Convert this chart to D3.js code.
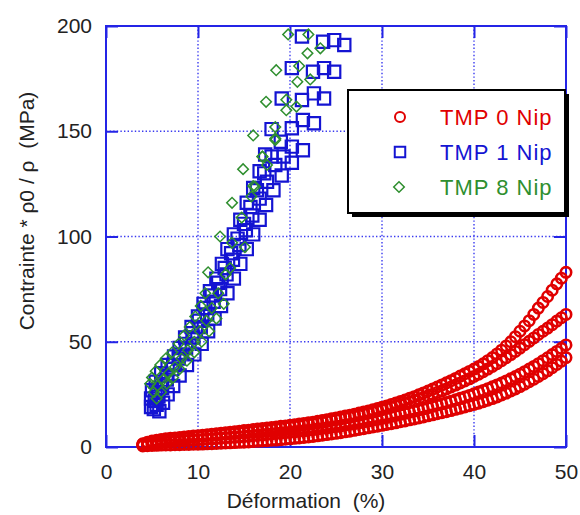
<!DOCTYPE html>
<html><head><meta charset="utf-8">
<script src="https://cdn.jsdelivr.net/npm/d3@7"></script>
<style>
html,body{margin:0;padding:0;background:#fff;}
svg{display:block;font-family:"Liberation Sans",Arial,sans-serif;}
</style></head>
<body>
<svg id="c" width="580" height="515"></svg>
<script>
// ---------- DATA ----------
const xTicks = [0,10,20,30,40,50];
const yTicks = [0,50,100,150,200];
const xTitle = "Déformation  (%)";
const yTitle = "Contrainte * ρ0 / ρ  (MPa)";
const legendLabels = ["TMP 0 Nip","TMP 1 Nip","TMP 8 Nip"];

// TMP 0 Nip : four specimens, shared strain samples
const strain0 = [4,4.5,5,5.5,6,6.5,7,7.5,8,8.5,9,9.5,10,10.5,11,11.5,12,12.5,13,13.5,14,14.5,15,15.5,16,16.5,17,17.5,18,18.5,19,19.5,20,20.5,21,21.5,22,22.5,23,23.5,24,24.5,25,25.5,26,26.5,27,27.5,28,28.5,29,29.5,30,30.5,31,31.5,32,32.5,33,33.5,34,34.5,35,35.5,36,36.5,37,37.5,38,38.5,39,39.5,40,40.5,41,41.5,42,42.5,43,43.5,44,44.5,45,45.5,46,46.5,47,47.5,48,48.5,49,49.5,50];
const tmp0a = [1.5,2.2,2.8,3.2,3.6,3.9,4.1,4.3,4.5,4.8,5.0,5.2,5.4,5.6,5.8,6.0,6.3,6.5,6.8,7.0,7.3,7.5,7.8,8.0,8.3,8.5,8.8,9.0,9.3,9.5,9.8,10.0,10.3,10.6,10.9,11.2,11.5,11.8,12.2,12.6,13.0,13.4,13.8,14.2,14.7,15.1,15.6,16.1,16.6,17.1,17.7,18.3,18.9,19.5,20.2,20.9,21.6,22.3,23.1,23.9,24.8,25.7,26.6,27.5,28.5,29.5,30.5,31.5,32.6,33.7,34.8,35.9,37.0,38.2,39.5,41.0,42.5,44.2,46.0,48.0,50.0,52.4,55.0,57.5,60.0,63.0,66.0,68.7,71.5,74.5,77.5,80.2,83.0];
const tmp0b = [1.3,1.8,2.2,2.6,2.9,3.2,3.5,3.8,4.0,4.3,4.5,4.8,5.0,5.2,5.4,5.6,5.8,6.0,6.2,6.4,6.6,6.8,7.0,7.2,7.5,7.7,8.0,8.2,8.5,8.7,9.0,9.3,9.6,9.9,10.2,10.5,10.8,11.1,11.5,11.8,12.2,12.6,13.0,13.4,13.8,14.2,14.7,15.1,15.6,16.1,16.6,17.1,17.7,18.3,18.9,19.5,20.1,20.7,21.4,22.1,22.8,23.5,24.3,25.1,25.9,26.7,27.6,28.5,29.4,30.4,31.4,32.4,33.5,34.6,35.8,37.0,38.3,39.6,41.0,42.4,43.9,45.4,47.0,48.6,50.2,51.8,53.5,55.0,56.5,58.1,59.8,61.4,63.0];
const tmp0c = [1.0,1.3,1.6,1.9,2.1,2.3,2.5,2.7,2.9,3.0,3.2,3.3,3.5,3.6,3.8,3.9,4.1,4.2,4.4,4.5,4.7,4.8,5.0,5.2,5.4,5.6,5.8,6.0,6.2,6.4,6.6,6.8,7.0,7.2,7.5,7.7,8.0,8.2,8.5,8.8,9.1,9.4,9.7,10.0,10.4,10.7,11.1,11.5,11.9,12.3,12.7,13.1,13.6,14.0,14.5,15.0,15.5,16.0,16.5,17.0,17.6,18.1,18.7,19.3,19.9,20.5,21.1,21.7,22.4,23.1,23.8,24.5,25.3,26.1,26.9,27.7,28.6,29.5,30.4,31.4,32.4,33.5,34.6,35.8,37.0,38.3,39.6,41.0,42.4,43.9,45.4,46.9,48.5];
const tmp0d = [0.5,0.6,0.7,0.8,0.9,1.0,1.0,1.1,1.1,1.2,1.2,1.3,1.3,1.4,1.5,1.6,1.7,1.8,1.9,2.0,2.1,2.2,2.3,2.4,2.6,2.7,2.9,3.0,3.2,3.3,3.5,3.7,3.9,4.1,4.3,4.5,4.8,5.0,5.3,5.6,5.9,6.2,6.5,6.8,7.2,7.5,7.9,8.3,8.7,9.1,9.5,9.9,10.3,10.7,11.1,11.5,12.0,12.4,12.9,13.3,13.8,14.3,14.8,15.3,15.8,16.3,16.8,17.3,17.9,18.4,19.0,19.6,20.2,20.8,21.5,22.2,23.0,23.8,24.7,25.6,26.6,27.6,28.7,29.8,31.0,32.2,33.5,34.8,36.2,37.7,39.2,40.8,42.5];

// TMP 1 Nip : four specimens
const tmp1aX = [5.8,6.2,6.7,7.3,8.0,8.8,9.6,10.4,11.1,11.8,12.5,13.2,13.9,14.6,15.3,16.0,16.7,17.4,18.2,19.1,20.2,21.4,22.6,23.7,24.8,25.9];
const tmp1aY = [17,21,25,29,34,39,44,49,55,61,67,73,80,87,94,101,108,115,122,129,135,141,153.8,165.6,178.3,191];
const tmp1bX = [5.5,5.7,6.1,6.6,7.2,7.9,8.7,9.5,10.3,11.0,11.7,12.4,13.1,13.8,14.5,15.2,15.9,16.7,17.5,18.4,19.3,20.2,21.4,22.6,23.7,24.8];
const tmp1bY = [20,24,28,32,37,42,47,52,57,63,69,75,82,89,96,103,110,118,126,134,138,142.7,155.3,168,180,193.3];
const tmp1cX = [5.2,5.3,5.6,6.0,6.6,7.3,8.0,8.7,9.4,10.1,10.8,11.5,12.2,12.9,13.6,14.3,15.0,15.7,16.4,17.2,18.0,19.0,20.2,21.3,22.5,23.6];
const tmp1cY = [18,22,26,30,34,39,44,49,54,60,66,72,78,85,92,99,106,114,122,130,138,145,151.4,164.8,178.3,192.5];
const tmp1dX = [4.9,4.9,5.0,5.4,6.0,6.7,7.4,8.0,8.6,9.3,10.0,10.6,11.3,12.0,12.6,13.2,13.9,14.6,15.3,16.0,16.7,17.3,18.0,19.1,20.2,21.3];
const tmp1dY = [19,23,27,31,35,39,43,47,52,57,62,68,74,80,87,94,101,108,116,123,131,139,151,165.6,180,195];

// TMP 8 Nip : specimens
const tmp8aX = [4.8,5.0,5.4,5.9,6.5,7.2,7.9,8.5,9.1,9.7,10.3,10.8,11.1,12.4,13.7,14.9,16.0,17.4,18.5,19.8];
const tmp8aY = [30,33,36,39,42,45,49,53,57,62,67,73,83,100,116,132,148,164,179,196];
const tmp8bX = [5.2,5.6,6.2,6.8,7.5,8.2,8.9,9.6,10.2,10.9,11.5,12.2,13.0,13.7,14.75,16.0,17.0,18.4,19.6,21.0,22.0];
const tmp8bY = [26,29,32,35,38,42,46,50,55,60,66,73,82,97,109,124,138,152,165,181,196];
const tmp8cX = [5.5,6.0,6.6,7.3,8.0,8.8,9.6,10.4,11.2,12.0,12.8,13.5,15.1,15.8,17.5,18.4,19.6,20.8,21.9];
const tmp8cY = [23,26,30,33,37,41,45,50,55,61,68,85,95,119,134,146.6,160,173.5,187];
const tmp8dX = [16.2,17.0,18.4,20.7,22.2,23.3];
const tmp8dY = [123.7,137.9,145.8,161.7,174.6,189.4];

// ---------- DRAW ----------
const RED = "#e00000", BLUE = "#1414d2", GREEN = "#2f8f2f", FRAME = "#2424e6";
const svg = d3.select("#c");
const L = 106, R = 566, T = 26, B = 447;
const x = d3.scaleLinear().domain([0,50]).range([L,R]);
const y = d3.scaleLinear().domain([0,200]).range([B,T]);

// grid
const grid = svg.append("g").attr("stroke", "#3a3af0").attr("stroke-width", 1.4).attr("stroke-dasharray", "1.4,2.2");
xTicks.slice(1,-1).forEach(v => grid.append("line").attr("x1", x(v)).attr("x2", x(v)).attr("y1", T).attr("y2", B));
yTicks.slice(1,-1).forEach(v => grid.append("line").attr("y1", y(v)).attr("y2", y(v)).attr("x1", L).attr("x2", R));

// axes
function styleAxis(g){
  g.select(".domain").remove();
  g.selectAll(".tick line").attr("stroke", FRAME).attr("stroke-width", 2);
  g.selectAll(".tick text").attr("fill", "#222").style("font-size", "21px");
}
svg.append("g").attr("transform", `translate(0,${B})`)
  .call(d3.axisBottom(x).tickValues(xTicks).tickSize(-12).tickPadding(17).tickFormat(d3.format("d"))).call(styleAxis);
svg.append("g").attr("transform", `translate(${L},0)`)
  .call(d3.axisLeft(y).tickValues(yTicks).tickSize(-12).tickPadding(14).tickFormat(d3.format("d"))).call(styleAxis);
svg.append("g").attr("transform", `translate(0,${T})`)
  .call(d3.axisTop(x).tickValues(xTicks).tickSize(-12).tickFormat("")).call(styleAxis);
svg.append("g").attr("transform", `translate(${R},0)`)
  .call(d3.axisRight(y).tickValues(yTicks).tickSize(-12).tickFormat("")).call(styleAxis);

// frame
svg.append("rect").attr("x", L).attr("y", T).attr("width", R-L).attr("height", B-T)
  .attr("fill", "none").attr("stroke", FRAME).attr("stroke-width", 2);

// red circles
[tmp0a,tmp0b,tmp0c,tmp0d].forEach(ys => {
  svg.append("g").selectAll("circle").data(ys).join("circle")
    .attr("cx", (d,i) => x(strain0[i])).attr("cy", d => y(d)).attr("r", 5.2)
    .attr("fill", "none").attr("stroke", RED).attr("stroke-width", 2.6);
});

// blue squares
const sq = d3.symbol(d3.symbolSquare, 150);
[[tmp1aX,tmp1aY],[tmp1bX,tmp1bY],[tmp1cX,tmp1cY],[tmp1dX,tmp1dY]].forEach(([xs,ys]) => {
  svg.append("g").selectAll("path").data(ys).join("path")
    .attr("d", sq).attr("transform", (d,i) => `translate(${x(xs[i])},${y(d)})`)
    .attr("fill", "none").attr("stroke", BLUE).attr("stroke-width", 2.2);
});

// green diamonds
const dm = d3.symbol(d3.symbolSquare, 56);
[[tmp8aX,tmp8aY],[tmp8bX,tmp8bY],[tmp8cX,tmp8cY],[tmp8dX,tmp8dY]].forEach(([xs,ys]) => {
  svg.append("g").selectAll("path").data(ys).join("path")
    .attr("d", dm).attr("transform", (d,i) => `translate(${x(xs[i])},${y(d)}) rotate(45)`)
    .attr("fill", "none").attr("stroke", GREEN).attr("stroke-width", 1.5);
});

// axis titles
svg.append("text").attr("x", 306).attr("y", 508).attr("text-anchor", "middle")
  .style("font-size", "21px").style("white-space", "pre").attr("fill", "#222").text(xTitle);
svg.append("text").attr("transform", "translate(34,211) rotate(-90)").attr("text-anchor", "middle")
  .style("font-size", "21px").style("white-space", "pre").attr("fill", "#222").text(yTitle);

// legend
const lg = svg.append("g");
lg.append("rect").attr("x", 352).attr("y", 94).attr("width", 217).attr("height", 123).attr("fill", "#000");
lg.append("rect").attr("x", 348).attr("y", 90).attr("width", 217).attr("height", 123)
  .attr("fill", "#fff").attr("stroke", "#000").attr("stroke-width", 2);
const colors = [RED, BLUE, GREEN];
const rowsY = [117, 152, 187];
lg.append("circle").attr("cx", 400).attr("cy", rowsY[0]).attr("r", 5).attr("fill","none").attr("stroke", RED).attr("stroke-width", 2);
lg.append("path").attr("d", d3.symbol(d3.symbolSquare, 110)).attr("transform", `translate(400,${rowsY[1]})`)
  .attr("fill","none").attr("stroke", BLUE).attr("stroke-width", 2);
lg.append("path").attr("d", dm).attr("transform", `translate(399,${rowsY[2]}) rotate(45)`)
  .attr("fill","none").attr("stroke", GREEN).attr("stroke-width", 1.5);
legendLabels.forEach((t,i) => {
  lg.append("text").attr("x", 440).attr("y", rowsY[i] + 7.5).attr("fill", colors[i])
    .style("font-size", "22px").style("letter-spacing", "1px").text(t);
});
</script>
</body></html>
